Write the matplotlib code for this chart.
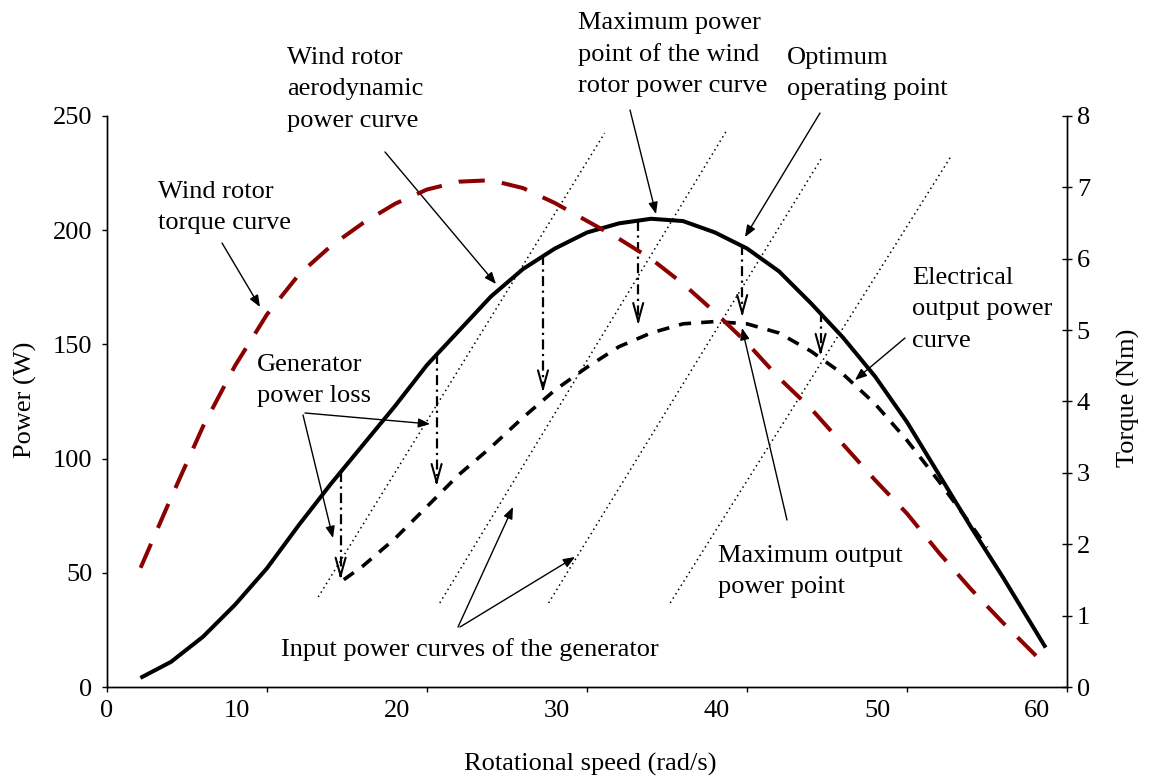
import matplotlib
matplotlib.use('Agg')
import matplotlib.pyplot as plt
from matplotlib.transforms import ScaledTranslation

plt.rcParams['font.family'] = ['Liberation Serif', 'DejaVu Serif']
plt.rcParams['font.size'] = 19

# wind rotor aerodynamic power curve (W)
speed = [2.2, 4, 6, 8, 10, 12, 14, 16, 18, 20, 22, 24, 26, 28, 30, 32, 34, 36,
         38, 40, 42, 44, 46, 48, 50, 52, 54, 56, 58.6]
rotor_power = [4.4, 11, 22, 36, 52, 71, 89, 106, 123, 141, 156, 171, 183, 192,
               199, 203, 205, 204, 199, 192, 182, 168, 153, 136, 116, 93, 70, 48, 18]

# electrical output power curve (W)
elec_speed = [14.8, 16, 18, 20, 22, 24, 26, 28, 30, 32, 34, 36, 38, 40, 42, 44,
              46, 48, 50, 52, 54, 55]
elec_power = [47, 53, 65, 79, 93, 105, 118, 130, 140, 149, 155, 159, 160, 159,
              155, 147, 137, 124, 108, 90, 71, 61]

# wind rotor torque curve (Nm)
torque_speed = [2.1, 4, 6, 8, 10, 12, 14, 16, 18, 20, 22, 24, 26, 28, 30, 32, 34,
                36, 38, 40, 42, 44, 46, 48, 50, 52, 54, 56, 58.5]
rotor_torque = [1.67, 2.65, 3.65, 4.5, 5.22, 5.78, 6.18, 6.5, 6.77, 6.97, 7.08,
                7.1, 6.99, 6.78, 6.53, 6.28, 6.0, 5.65, 5.25, 4.82, 4.33, 3.9,
                3.4, 2.9, 2.43, 1.88, 1.37, 0.9, 0.34]

# generator input power curves (straight dotted lines)
gen_x0 = [13.2, 20.8, 27.6, 35.2]
gen_p0 = [39.4, 36.8, 36.8, 36.8]
gen_x1 = [31.1, 38.75, 44.7, 52.8]
gen_p1 = [242.5, 243.9, 232.0, 232.9]

# generator power loss drops
loss_x = [14.6, 20.6, 27.25, 33.2, 39.7, 44.6]
loss_top = [94, 146, 189, 204, 193.5, 164]
loss_bottom = [47, 88, 129, 158.5, 162, 145]

W, H = 1149, 782


def px(x, y):
    # picture pixel (from top left) -> figure pixels
    return (x, H - y)


fig = plt.figure(figsize=(W / 100, H / 100), dpi=100)
ax = fig.add_axes([107 / W, 95 / H, 960 / W, 571 / H])
ax2 = ax.twinx()

ax.plot(speed, rotor_power, color='black', lw=2.9, solid_joinstyle='round')
ax.plot(elec_speed, elec_power, color='black', lw=2.6, dashes=(3.4, 2.8))
ax2.plot(torque_speed, rotor_torque, color='#8b0000', lw=2.9, dashes=(6.5, 4.3))

for x0, p0, x1, p1 in zip(gen_x0, gen_p0, gen_x1, gen_p1):
    ax.plot([x0, x1], [p0, p1], color='black', lw=1.1, dashes=(1, 2.3))

for x, top, bot in zip(loss_x, loss_top, loss_bottom):
    ax.plot([x, x], [top, bot + 3], color='black', lw=1.6, dashes=(4.5, 2, 1, 2))
    ax.annotate('', xy=(x, bot), xytext=(x, bot + 3),
                arrowprops=dict(arrowstyle='->,head_length=1.3,head_width=0.36',
                                color='black', lw=1.5, shrinkA=0, shrinkB=0,
                                mutation_scale=10))

ax.set_xlim(0, 60)
ax.set_ylim(0, 250)
ax2.set_ylim(0, 8)
ax.set_xticks(range(0, 61, 10))
ax.set_yticks(range(0, 251, 50))
ax2.set_yticks(range(0, 9))

for a in (ax, ax2):
    a.spines['top'].set_visible(False)
    for s in a.spines.values():
        s.set_linewidth(1.0)
ax.tick_params(axis='x', direction='out', length=3.6, width=1.0, pad=5.5, labelsize=19)
ax.tick_params(axis='y', direction='out', length=3.6, width=1.0, pad=7, labelsize=19)
ax2.tick_params(axis='y', direction='inout', length=7.2, width=1.0, pad=3.5, labelsize=19)

# the x labels sit a little left of their ticks in the original
offset = ScaledTranslation(-0.30, 0, fig.dpi_scale_trans)
for lab in ax.get_xticklabels()[1:]:
    lab.set_transform(lab.get_transform() + offset)

fig.text(25 / W, 1 - 400 / H, 'Power (W)', rotation=90, ha='center', va='center')
fig.text(1128 / W, 1 - 398 / H, 'Torque (Nm)', rotation=90, ha='center', va='center')
fig.text(590 / W, 1 - 764 / H, 'Rotational speed (rad/s)', ha='center', va='center')


def note(x, y, lines):
    for i, line in enumerate(lines):
        fig.text(x / W, 1 - (y + 31.5 * i) / H, line, ha='left', va='baseline')


def pointer(start, tip):
    ax.annotate('', xy=px(*tip), xycoords='figure pixels',
                xytext=px(*start), textcoords='figure pixels',
                arrowprops=dict(arrowstyle='-|>,head_length=0.5,head_width=0.2',
                                color='black', lw=1.0, shrinkA=0, shrinkB=0,
                                mutation_scale=14),
                annotation_clip=False)


note(287, 64, ['Wind rotor', 'aerodynamic', 'power curve'])
pointer((385, 152), (496, 284))

note(578, 29, ['Maximum power', 'point of the wind', 'rotor power curve'])
pointer((630, 110), (656, 214))

note(787, 64, ['Optimum', 'operating point'])
pointer((820, 113), (745, 237))

note(158, 198, ['Wind rotor', 'torque curve'])
pointer((222, 243), (260, 307))

note(257, 371, ['Generator', 'power loss'])
pointer((305, 413), (430, 424))
pointer((303, 415), (333, 538))

note(912, 284, ['Electrical', 'output power', 'curve'])
pointer((905, 338), (855, 380))

note(718, 562, ['Maximum output', 'power point'])
pointer((787, 520), (742, 328))

note(281, 656, ['Input power curves of the generator'])
pointer((458, 627), (513, 507))
pointer((460, 627), (575, 557))

fig.savefig('out.png', dpi=100)
